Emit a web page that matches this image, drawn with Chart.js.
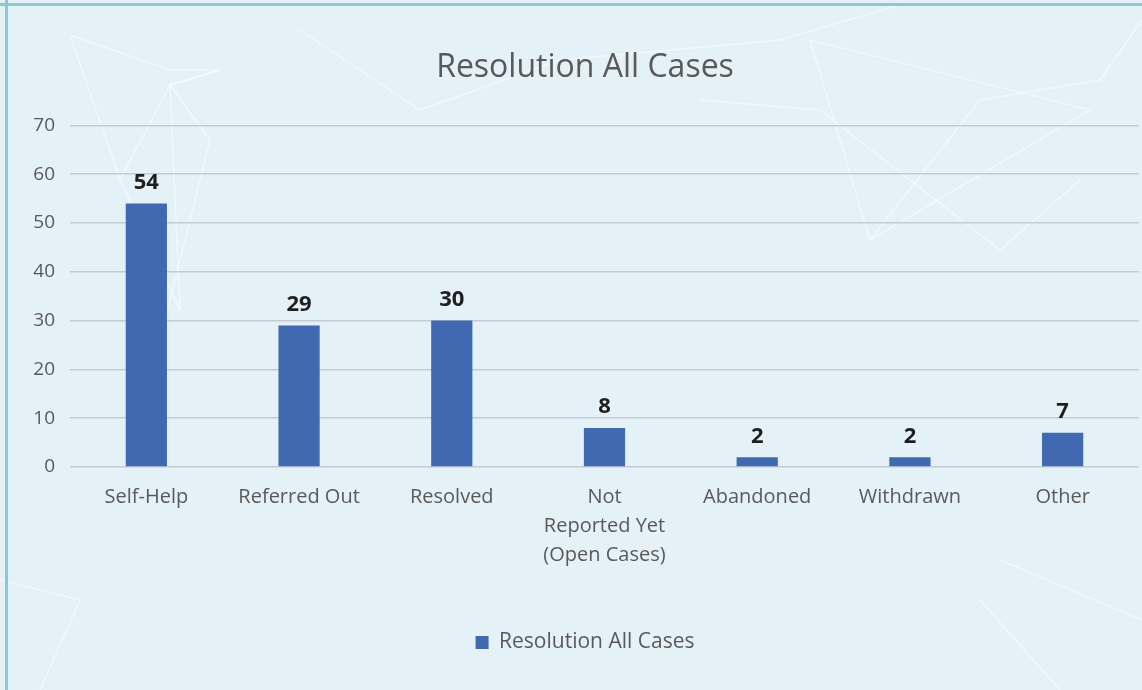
<!DOCTYPE html>
<html>
<head>
<meta charset="utf-8">
<script src="https://cdn.jsdelivr.net/npm/chart.js@4"></script>
<style>
  html, body { margin: 0; padding: 0; }
  body {
    width: 1142px; height: 690px; overflow: hidden;
    background: #e4f2f8;
  }
  #wrap {
    position: absolute; left: 0; top: 0; width: 1142px; height: 690px;
    background:
      linear-gradient(#8ec9d1, #8ec9d1) 0 3px / 1142px 3px no-repeat,
      linear-gradient(#8ec9d1, #8ec9d1) 5px 0 / 3px 690px no-repeat,
      url("data:image/svg+xml;utf8,<svg xmlns='http://www.w3.org/2000/svg' width='1142' height='690'><g stroke='white' stroke-opacity='0.45' stroke-width='1.5' fill='none'><polyline points='70,35 170,70 220,70 170,85 120,180 70,35'/><polyline points='170,85 180,310 120,180'/><polyline points='220,70 170,85 210,140 160,340'/><polyline points='300,30 420,110 560,60 780,40 900,5'/><polyline points='810,40 870,240 980,100 1100,80 1142,20'/><polyline points='810,40 1090,110 870,240'/><polyline points='700,100 820,110 1000,250 1080,180'/><polyline points='0,580 80,600 40,690'/><polyline points='1000,560 1142,620'/><polyline points='980,600 1060,690'/></g></svg>") 0 0 no-repeat;
  }
  canvas { position: absolute; left: 0; top: 0; }
</style>
</head>
<body>
<div id="wrap"><canvas id="chart" width="1142" height="690"></canvas></div>
<script>
const categories = ['Self-Help', 'Referred Out', 'Resolved', ['Not', 'Reported Yet', '(Open Cases)'], 'Abandoned', 'Withdrawn', 'Other'];
const resolutionCounts = [54, 29, 30, 8, 2, 2, 7];
const yTicks = [0, 10, 20, 30, 40, 50, 60, 70];

const textGray = '#595959';
const barBlue = '#4169b2';
const fontName = "'Open Sans', 'Noto Sans', sans-serif";

// value labels above each bar
const barLabels = {
    id: 'barLabels',
    afterDatasetsDraw(chart) {
        const c = chart.ctx;
        const meta = chart.getDatasetMeta(0);
        c.save();
        c.font = 'bold 22px ' + fontName;
        c.fillStyle = '#1e1e1e';
        c.textAlign = 'center';
        c.textBaseline = 'middle';
        meta.data.forEach((bar, i) => {
            c.fillText(resolutionCounts[i], bar.x, bar.y - 21);
        });
        c.restore();
    }
};

const ctx = document.getElementById('chart').getContext('2d');
const myChart = new Chart(ctx, {
    type: 'bar',
    data: {
        labels: categories,
        datasets: [{
            label: 'Resolution All Cases',
            data: resolutionCounts,
            backgroundColor: barBlue,
            borderWidth: 0,
            barPercentage: 1,
            categoryPercentage: 0.27
        }]
    },
    options: {
        responsive: false,
        animation: false,
        // left padding nudges title/legend centre to the right like the original
        layout: { padding: { left: 31, right: 3, top: 0, bottom: 27 } },
        plugins: {
            title: {
                display: true,
                text: 'Resolution All Cases',
                color: textGray,
                font: { family: fontName, size: 32, weight: 'normal' },
                padding: { top: 49, bottom: 38 }
            },
            legend: {
                position: 'bottom',
                labels: {
                    color: textGray,
                    font: { family: fontName, size: 21 },
                    boxWidth: 13,
                    boxHeight: 13,
                    padding: 33,
                    useBorderRadius: false
                }
            },
            tooltip: { enabled: false }
        },
        scales: {
            x: {
                grid: { display: false },
                border: { display: false },
                ticks: {
                    color: textGray,
                    font: { family: fontName, size: 20, lineHeight: 1.45 },
                    maxRotation: 0,
                    autoSkip: false,
                    padding: 8
                },
                afterFit(scale) { scale.height = 132; }
            },
            y: {
                min: 0,
                max: 70,
                afterBuildTicks(scale) { scale.ticks = yTicks.map(v => ({ value: v })); },
                grid: { color: '#c3ccd2', lineWidth: 1.5, drawTicks: false },
                border: { display: false },
                ticks: {
                    color: textGray,
                    font: { family: fontName, size: 19 },
                    padding: 15
                },
                afterFit(scale) { scale.width = 39; }
            }
        }
    },
    plugins: [barLabels]
});
</script>
</body>
</html>
